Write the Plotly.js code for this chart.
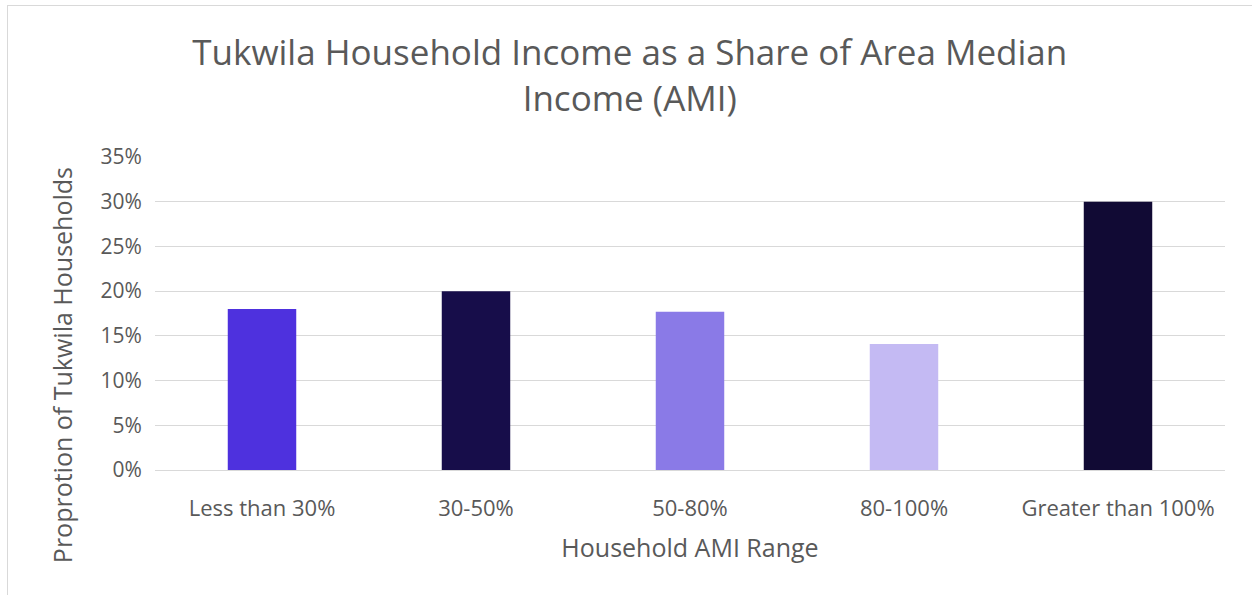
<!DOCTYPE html>
<html>
<head>
<meta charset="utf-8">
<script src="https://cdn.plot.ly/plotly-3.0.1.min.js"></script>
<style>
  html, body { margin: 0; padding: 0; background: #ffffff; }
  #frame { position: absolute; left: 7px; top: 5px; width: 1300px; height: 650px; border: 1px solid #d9d9d9; box-sizing: border-box; }
  #chart { position: absolute; left: 0; top: 0; width: 1252px; height: 595px; }
</style>
</head>
<body>
<div id="frame"></div>
<div id="chart"></div>
<script>
const categories = ["Less than 30%", "30-50%", "50-80%", "80-100%", "Greater than 100%"];
const shares = [18.0, 20.0, 17.7, 14.1, 30.0];
const barColors = ["#4e31de", "#170d4a", "#8a7ae7", "#c4baf3", "#110a34"];
const yTickVals = [0, 5, 10, 15, 20, 25, 30, 35];
const yTickText = yTickVals.map(v => v + "%");

const font = "'Open Sans', 'Noto Sans', sans-serif";
const textColor = "#595959";

Plotly.newPlot("chart", [{
  type: "bar",
  x: categories,
  y: shares,
  marker: { color: barColors },
  hoverinfo: "x+y"
}], {
  width: 1252,
  height: 595,
  paper_bgcolor: "rgba(0,0,0,0)",
  plot_bgcolor: "rgba(0,0,0,0)",
  margin: { l: 155, r: 27, t: 157, b: 125 },
  bargap: 0.68,
  showlegend: false,
  font: { family: font, color: textColor },
  title: {
    text: "Tukwila Household Income as a Share of Area Median<br>Income (AMI)",
    font: { family: font, size: 35, color: textColor },
    x: 0.503, xanchor: "center",
    y: 0.89, yanchor: "top"
  },
  annotations: [{
    text: "Proprotion of Tukwila Households",
    textangle: -90,
    xref: "paper", yref: "paper",
    x: -0.0869, y: 0.335,
    xanchor: "center", yanchor: "middle",
    showarrow: false,
    font: { family: font, size: 25, color: textColor }
  }],
  xaxis: {
    type: "category",
    tickfont: { size: 22, color: textColor },
    ticks: "outside",
    ticklen: 19,
    tickcolor: "rgba(0,0,0,0)",
    showline: false,
    showgrid: false,
    zeroline: false,
    title: { text: "Household AMI Range", font: { size: 25, color: textColor }, standoff: 18 }
  },
  yaxis: {
    range: [0, 35],
    tickmode: "array",
    tickvals: yTickVals,
    ticktext: yTickText,
    tickfont: { size: 21, color: textColor },
    showgrid: true,
    gridcolor: "#d9d9d9",
    gridwidth: 1.3,
    zeroline: true,
    zerolinecolor: "#d9d9d9",
    zerolinewidth: 1.3,
    showline: false,
    ticks: "outside",
    ticklen: 8,
    tickcolor: "rgba(0,0,0,0)"
  }
}, { displayModeBar: false });
</script>
</body>
</html>
